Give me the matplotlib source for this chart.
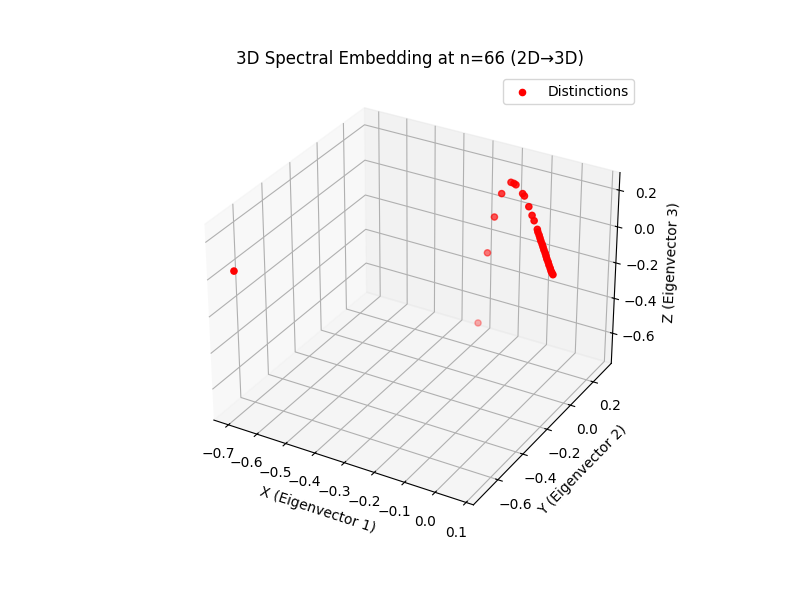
import matplotlib
matplotlib.use("Agg")
import matplotlib.pyplot as plt

# eigenvector coordinates
xs = [-0.712, -0.323, -0.267, -0.229, -0.190, -0.151, -0.139, -0.132, -0.089, -0.079, -0.056, -0.037, -0.026,
      -0.011, -0.005, 0.003, 0.010, 0.017, 0.025, 0.032, 0.039, 0.047, 0.052, 0.057, 0.063, 0.068, 0.074, 0.079, 0.084, 0.084]
ys = [-0.686, 0.316, 0.250, 0.210, 0.170, 0.148, 0.143, 0.142, 0.090, 0.080, 0.060, 0.040, 0.030,
      0.020, 0.010, 0.000, -0.010, -0.020, -0.030, -0.040, -0.050, -0.060, -0.065, -0.070, -0.075, -0.080, -0.085, -0.090, -0.095, -0.086]
zs = [0.004, -0.726, -0.253, -0.012, 0.156, 0.246, 0.248, 0.244, 0.244, 0.241, 0.205, 0.178, 0.160,
      0.126, 0.120, 0.113, 0.106, 0.099, 0.092, 0.086, 0.079, 0.072, 0.061, 0.050, 0.040, 0.029, 0.018, 0.008, 0.003, -0.012]

xlim = (-0.7515, 0.1235)
ylim = (-0.79, 0.363)
zlim = (-0.775, 0.295)

fig = plt.figure(figsize=(8, 6), dpi=100)
ax = fig.add_subplot(111, projection="3d")
ax.scatter(xs, ys, zs, c="red", label="Distinctions")
ax.set_xlim(xlim)
ax.set_ylim(ylim)
ax.set_zlim(zlim)
ax.set_title("3D Spectral Embedding at n=66 (2D→3D)")
ax.set_xlabel("X (Eigenvector 1)")
ax.set_ylabel("Y (Eigenvector 2)")
ax.set_zlabel("Z (Eigenvector 3)")
ax.legend()
fig.savefig("out.png")
